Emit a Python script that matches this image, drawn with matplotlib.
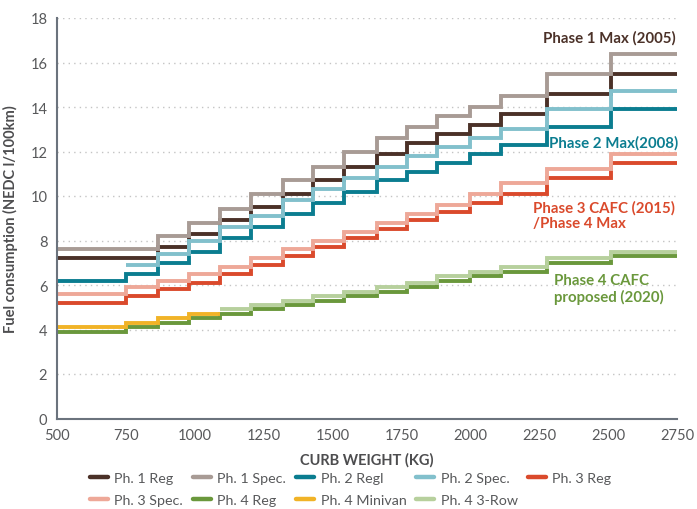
import matplotlib
matplotlib.use("Agg")
import matplotlib.pyplot as plt
import numpy as np

plt.rcParams['font.family'] = ['Lato', 'DejaVu Sans']

# curb weight bin edges (kg)
edges = [500, 750, 865, 980, 1090, 1205, 1320, 1430, 1540, 1660, 1770,
         1880, 2000, 2110, 2280, 2510, 2750]

nan = np.nan
ph1_reg = [7.2, 7.2, 7.7, 8.3, 8.9, 9.5, 10.1, 10.7, 11.3, 11.9, 12.4, 12.8, 13.2, 13.7, 14.6, 15.5]
ph1_spec = [7.6, 7.6, 8.2, 8.8, 9.4, 10.1, 10.7, 11.3, 12.0, 12.6, 13.1, 13.6, 14.0, 14.5, 15.5, 16.4]
ph2_reg = [6.2, 6.5, 7.0, 7.5, 8.1, 8.6, 9.2, 9.7, 10.2, 10.7, 11.1, 11.5, 11.9, 12.3, 13.1, 13.9]
ph2_spec = [nan, 6.9, 7.4, 8.0, 8.6, 9.1, 9.8, 10.3, 10.8, 11.3, 11.8, 12.2, 12.6, 13.0, 13.9, 14.7]
ph3_reg = [5.2, 5.5, 5.8, 6.1, 6.5, 6.9, 7.3, 7.7, 8.1, 8.5, 8.9, 9.3, 9.7, 10.1, 10.8, 11.5]
ph3_spec = [5.6, 5.9, 6.2, 6.5, 6.8, 7.2, 7.6, 8.0, 8.4, 8.8, 9.2, 9.6, 10.1, 10.6, 11.2, 11.9]
ph4_reg = [3.9, 4.1, 4.3, 4.5, 4.7, 4.9, 5.1, 5.3, 5.5, 5.7, 5.9, 6.2, 6.4, 6.6, 7.0, 7.3]
ph4_minivan = [4.1, 4.3, 4.5, 4.7, nan, nan, nan, nan, nan, nan, nan, nan, nan, nan, nan, nan]
ph4_3row = [nan, nan, nan, nan, 4.9, 5.1, 5.3, 5.5, 5.7, 5.9, 6.1, 6.4, 6.6, 6.8, 7.2, 7.5]

series = [
    ('Ph. 1 Reg', ph1_reg, '#4b3128'),
    ('Ph. 1 Spec.', ph1_spec, '#a89b95'),
    ('Ph. 2 Regl', ph2_reg, '#0b7d90'),
    ('Ph. 2 Spec.', ph2_spec, '#82c0cc'),
    ('Ph. 3 Reg', ph3_reg, '#da4a2c'),
    ('Ph. 3 Spec.', ph3_spec, '#eea898'),
    ('Ph. 4 Reg', ph4_reg, '#6a983c'),
    ('Ph. 4 Minivan', ph4_minivan, '#f1b327'),
    ('Ph. 4 3-Row', ph4_3row, '#b7d09d'),
]

fig = plt.figure(figsize=(6.97, 5.10), dpi=100)
ax = fig.add_axes([57 / 697, 90.5 / 510, 620 / 697, 400.5 / 510])

handles = {}
for name, vals, col in series:
    y = list(vals) + [vals[-1]]
    ln, = ax.step(edges, y, where='post', color=col, lw=2.8,
                  solid_joinstyle='miter', solid_capstyle='butt', label=name)
    handles[name] = ln

ax.set_xlim(500, 2750)
ax.set_ylim(0, 18)
ax.set_xticks(np.arange(500, 2751, 250))
ax.set_yticks(np.arange(0, 19, 2))
ax.tick_params(length=0, labelsize=10.5, labelcolor='#58595b', pad=7)
ax.yaxis.grid(True, linestyle=(0, (1, 3)), color='#c4c4c4', lw=1)
ax.set_axisbelow(True)
for s in ['top', 'right']:
    ax.spines[s].set_visible(False)
for s in ['left', 'bottom']:
    ax.spines[s].set_color('#6b737d')
    ax.spines[s].set_linewidth(1.5)

ax.set_xlabel('CURB WEIGHT (KG)', fontsize=10.5, color='#4d4d4f', fontweight='bold', labelpad=7)
ax.set_ylabel('Fuel consumption (NEDC l/100km)', fontsize=10.5, color='#4d4d4f', fontweight='bold', labelpad=9)

# annotations
ax.text(2745, 17.15, 'Phase 1 Max (2005)', ha='right', va='center',
        fontsize=10.8, fontweight='bold', color='#4b3128')
ax.text(2285, 12.43, 'Phase 2 Max(2008)', ha='left', va='center',
        fontsize=10.8, fontweight='bold', color='#0b7d90')
ax.text(2226, 9.14, 'Phase 3 CAFC (2015)\n/Phase 4 Max', ha='left', va='center',
        fontsize=10.8, fontweight='bold', color='#da4a2c', linespacing=1.15)
ax.text(2303, 5.84, 'Phase 4 CAFC\nproposed (2020)', ha='left', va='center',
        fontsize=10.8, fontweight='bold', color='#6a983c', linespacing=1.15)

# legend, ordered so that matplotlib's column filling gives the reference rows
order = ['Ph. 1 Reg', 'Ph. 3 Spec.', 'Ph. 1 Spec.', 'Ph. 4 Reg', 'Ph. 2 Regl',
         'Ph. 4 Minivan', 'Ph. 2 Spec.', 'Ph. 4 3-Row', 'Ph. 3 Reg']
leg_handles = [plt.Line2D([], [], color=handles[n].get_color(), lw=3.2,
                          solid_capstyle='round') for n in order]
fig.legend(leg_handles, order, loc='upper left', bbox_to_anchor=(90 / 697, 1 - 473 / 510),
           ncol=5, frameon=False, fontsize=10.3, handlelength=1.25, handletextpad=0.45,
           columnspacing=0.7, labelspacing=0.72, borderpad=0, borderaxespad=0,
           labelcolor='#58595b')

fig.savefig('out.png', dpi=100)
